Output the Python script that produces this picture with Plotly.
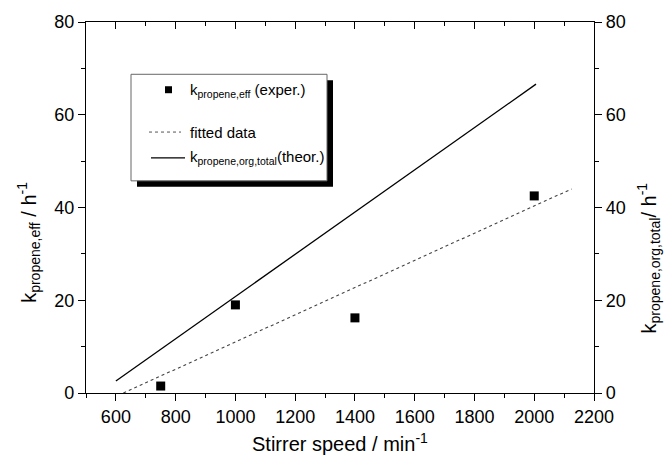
import plotly.graph_objects as go

# Experimental effective rate constants
speed_exp = [750, 1000, 1400, 2000]
k_eff_exp = [1.5, 19.0, 16.2, 42.5]

# Linear fit of the experimental data
speed_fit = [625, 2125]
k_fit = [0.0, 44.0]

# Theoretical total rate constant (organic phase)
speed_theo = [600, 2006]
k_theo = [2.6, 66.6]

x_ticks = [600, 800, 1000, 1200, 1400, 1600, 1800, 2000, 2200]
y_ticks = [0, 20, 40, 60, 80]

FONT = "Liberation Sans, Arial, sans-serif"

fig = go.Figure()

fig.add_trace(go.Scatter(
    x=speed_fit, y=k_fit, mode="lines",
    line=dict(color="#444444", width=1.1, dash="dot"),
    showlegend=False))
fig.add_trace(go.Scatter(
    x=speed_theo, y=k_theo, mode="lines",
    line=dict(color="black", width=1.3),
    showlegend=False))
fig.add_trace(go.Scatter(
    x=speed_exp, y=k_eff_exp, mode="markers",
    marker=dict(symbol="square", size=9, color="black"),
    showlegend=False, cliponaxis=False))
# invisible trace that activates the right-hand axis
fig.add_trace(go.Scatter(x=[None], y=[None], yaxis="y2", showlegend=False))
# invisible trace that activates the top axis
fig.add_trace(go.Scatter(x=[None], y=[None], xaxis="x2", showlegend=False))

tickfont = dict(family=FONT, size=18, color="black")
common = dict(showline=True, linecolor="black", linewidth=1.3,
              showgrid=False, zeroline=False, ticklen=7, tickwidth=1.3,
              tickcolor="black", tickfont=tickfont)

fig.update_layout(
    width=666, height=457,
    margin=dict(l=86, r=72, t=20, b=64),
    paper_bgcolor="white", plot_bgcolor="white",
    font=dict(family=FONT, color="black"),
    showlegend=False,
    xaxis=dict(range=[500, 2200], tickvals=x_ticks, ticks="outside",
               minor=dict(dtick=100, ticks="outside", ticklen=4,
                          tickcolor="black", tickwidth=1.2),
               **common),
    xaxis2=dict(range=[500, 2200], overlaying="x", side="top",
                tickvals=x_ticks, ticks="inside", showticklabels=False,
                minor=dict(dtick=100, ticks="inside", ticklen=4,
                           tickcolor="black", tickwidth=1.2),
                **common),
    yaxis=dict(range=[0, 80], tickvals=y_ticks, ticks="outside",
               minor=dict(dtick=10, ticks="outside", ticklen=4,
                          tickcolor="black", tickwidth=1.2),
               **common),
    yaxis2=dict(range=[0, 80], overlaying="y", side="right",
                tickvals=y_ticks, ticks="outside",
                minor=dict(dtick=10, ticks="outside", ticklen=4,
                           tickcolor="black", tickwidth=1.2),
                **common),
)

# axis titles
fig.add_annotation(xref="paper", yref="paper", x=0.5, y=-0.093,
                   xanchor="center", yanchor="top", showarrow=False,
                   text="Stirrer speed / min<sup>-1</sup>",
                   font=dict(family=FONT, size=20))
fig.add_annotation(xref="paper", yref="paper", x=-0.112, y=0.405,
                   xanchor="center", yanchor="middle", showarrow=False,
                   textangle=-90,
                   text="k<sub>propene,eff</sub> / h<sup>-1</sup>",
                   font=dict(family=FONT, size=20))
fig.add_annotation(xref="paper", yref="paper", x=1.108, y=0.365,
                   xanchor="center", yanchor="middle", showarrow=False,
                   textangle=-90,
                   text="k<sub>propene,org,total</sub>/ h<sup>-1</sup>",
                   font=dict(family=FONT, size=20))

# legend box with drop shadow
def px_x(p):
    return (p - 86) / 508.0

def px_y(p):
    return (393 - p) / 372.5

fig.add_shape(type="rect", xref="paper", yref="paper",
              x0=px_x(137), x1=px_x(333), y0=px_y(186), y1=px_y(79),
              fillcolor="black", line=dict(width=0), layer="above")
fig.add_shape(type="rect", xref="paper", yref="paper",
              x0=px_x(131), x1=px_x(327), y0=px_y(180), y1=px_y(73),
              fillcolor="white", line=dict(color="#666666", width=1),
              layer="above")

# legend samples
fig.add_shape(type="rect", xref="paper", yref="paper",
              x0=px_x(165), x1=px_x(172), y0=px_y(92), y1=px_y(85),
              fillcolor="black", line=dict(width=0), layer="above")
fig.add_shape(type="line", xref="paper", yref="paper",
              x0=px_x(149), x1=px_x(181), y0=px_y(131), y1=px_y(131),
              line=dict(color="#555555", width=1, dash="dot"), layer="above")
fig.add_shape(type="line", xref="paper", yref="paper",
              x0=px_x(151), x1=px_x(185), y0=px_y(157), y1=px_y(157),
              line=dict(color="black", width=1.3), layer="above")

legend_text = [
    ("k<sub>propene,eff</sub> (exper.)", 89),
    ("fitted data", 131),
    ("k<sub>propene,org,total</sub>(theor.)", 157),
]
for txt, ypix in legend_text:
    fig.add_annotation(xref="paper", yref="paper", x=px_x(188), y=px_y(ypix),
                       xanchor="left", yanchor="middle", showarrow=False,
                       text=txt, font=dict(family=FONT, size=15))

fig.write_html("out.html")
